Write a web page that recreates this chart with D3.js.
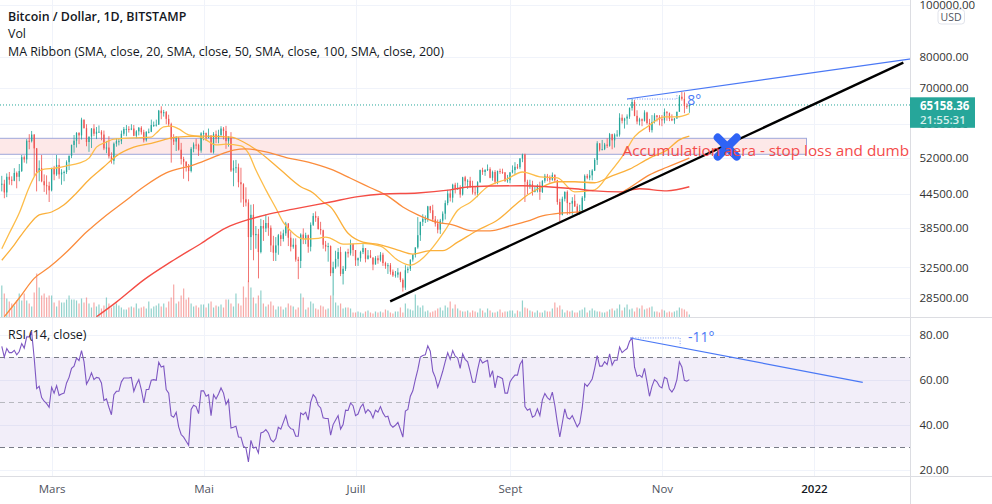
<!DOCTYPE html>
<html>
<head>
<meta charset="utf-8">
<script src="https://cdn.jsdelivr.net/npm/d3@7"></script>
<style>
html, body { margin: 0; padding: 0; background: #fff; }
svg { display: block; }
text { font-family: "Open Sans", sans-serif; }
.axis path, .axis line { display: none; }
.axis text { font-size: 11.5px; fill: #333; font-family: "Open Sans", sans-serif; }
</style>
</head>
<body>
<div id="chart"></div>
<script>
// all prices in thousands of USD, one entry per day from 9 Feb 2021
var firstOpen = 46.4;
var closes = [
  46.5,44.8,47.9,47.3,47.1,48.7,47.9,49.1,52.1,51.6,55.9,55.8,57.4,54.1,48.9,49.7,47.0,46.2,46.1,45.2,
  49.6,48.4,50.4,48.4,48.8,48.9,51.0,52.4,54.9,55.9,57.8,57.2,61.2,59.0,55.6,56.9,58.9,57.6,58.1,58.1,57.4,54.1,54.3,52.3,51.3,55.2,55.8,55.8,57.6,58.8,58.8,
  58.7,58.9,57.1,58.2,59.1,58.0,56.0,58.1,58.1,59.8,59.8,59.9,63.6,62.9,63.2,61.4,60.0,56.2,55.7,56.5,53.8,51.7,51.1,50.1,49.1,54.0,55.0,54.9,53.6,57.7,
  57.8,56.6,57.2,53.2,57.5,56.4,57.3,58.9,58.3,55.8,56.7,49.2,49.7,49.9,46.8,46.4,43.5,42.9,37.0,40.7,37.3,37.5,34.7,38.8,38.4,39.3,38.5,35.7,34.6,35.7,37.3,
  36.7,37.6,39.2,36.9,35.5,35.8,33.6,33.4,37.4,36.7,37.3,35.5,39.0,40.5,40.2,38.3,38.1,35.8,35.5,35.6,31.7,32.5,33.7,34.7,31.6,32.3,34.7,34.5,35.9,35.0,
  33.5,33.8,34.7,35.3,33.7,34.2,33.9,32.9,33.8,33.5,34.3,33.1,32.7,32.8,31.9,31.4,31.5,31.8,30.8,29.8,32.1,32.3,33.6,34.3,35.4,37.3,39.5,40.0,40.0,42.2,41.5,
  39.9,39.2,38.2,39.7,40.9,42.8,44.6,43.8,46.3,45.6,45.6,44.4,47.8,47.0,47.1,46.0,44.8,44.7,46.8,49.3,48.9,49.3,49.5,47.7,48.9,46.9,49.1,48.9,48.8,47.0,47.2,
  48.8,49.3,50.0,49.9,51.8,52.7,46.9,46.1,46.4,44.9,45.2,46.1,44.9,47.1,48.1,47.8,47.3,48.3,47.2,43.0,40.7,43.6,44.9,42.8,42.7,43.2,42.2,41.0,41.5,43.8,
  48.1,47.7,48.2,49.2,51.5,55.3,53.8,53.9,55.0,54.7,57.5,56.0,57.4,57.4,61.7,60.9,61.5,62.0,64.3,66.0,62.2,60.7,61.3,60.9,63.1,60.3,58.5,60.6,62.3,61.9,61.3,
  61.0,63.2,62.9,61.4,61.0,61.5,63.3,67.5,66.9,64.9,64.8,65.16
];
var highs = [
  48.1,47.3,48.6,48.9,48.0,49.7,49.0,50.6,52.6,52.5,56.3,57.5,58.3,57.5,54.2,51.4,52.6,48.4,48.2,46.9,
  49.8,50.2,52.6,51.8,49.5,49.2,51.4,52.5,55.0,57.3,58.0,58.0,61.7,61.2,60.0,56.9,59.0,60.0,59.3,59.7,58.5,58.4,55.8,57.0,53.2,55.5,56.5,56.5,58.4,59.3,59.8,
  59.5,60.0,59.8,58.5,59.3,59.5,58.6,58.2,58.9,61.2,60.7,61.2,63.8,64.8,63.8,63.5,62.5,60.4,57.5,57.0,56.8,55.4,52.2,51.2,50.6,54.4,55.5,56.4,55.2,58.0,
  58.4,57.9,58.9,57.2,58.0,58.4,58.6,59.5,59.3,59.6,57.0,58.0,51.4,51.5,50.7,49.8,46.6,45.8,43.5,42.5,42.6,38.8,38.3,40.0,39.8,40.8,40.4,38.9,37.2,37.0,37.5,
  37.9,38.2,39.5,39.3,37.9,36.8,36.8,34.0,37.6,38.4,37.7,37.4,39.4,41.0,41.3,40.5,39.5,38.2,36.4,36.1,35.7,33.3,34.9,35.3,35.5,32.7,34.8,35.2,36.6,36.0,
  35.0,33.9,34.9,35.9,35.3,35.0,35.0,33.9,34.1,34.2,34.7,34.6,33.3,33.1,33.1,32.2,32.0,32.4,31.9,31.0,32.8,32.6,33.6,34.4,35.4,40.3,39.5,40.8,40.6,42.3,42.3,
  42.5,40.5,39.9,40.0,41.3,43.3,45.3,45.3,46.5,46.7,46.7,46.2,47.9,48.1,47.4,47.9,47.1,46.0,47.0,49.4,49.8,49.5,50.5,49.9,49.2,49.3,49.2,49.6,49.6,48.9,48.3,
  48.9,50.3,51.0,50.6,51.9,52.9,52.9,47.3,47.3,47.1,45.9,46.4,46.9,47.2,48.5,48.5,48.2,48.8,48.4,47.3,43.6,44.0,45.0,45.2,42.9,43.9,44.4,42.7,42.5,44.1,
  48.4,48.5,49.3,49.5,51.9,55.8,55.3,56.1,55.4,56.5,57.8,57.6,57.7,58.5,62.9,62.6,61.7,62.6,64.5,66.9,66.6,63.7,61.7,61.5,63.7,63.3,61.4,62.4,62.9,62.4,62.4,
  62.4,64.2,63.5,63.1,62.6,61.6,63.3,68.0,68.9,68.8,65.6,65.4
];
var lows = [
  45.0,43.7,43.9,46.3,46.2,47.0,45.6,47.0,48.9,50.9,50.7,53.9,55.5,48.0,45.0,47.0,46.8,44.9,44.4,43.0,
  45.0,47.2,48.1,47.5,46.3,47.0,48.5,49.3,51.9,53.1,54.3,55.1,56.2,58.9,54.6,53.3,54.2,57.0,56.3,57.9,56.0,53.7,53.0,51.8,50.7,50.5,54.5,54.8,55.1,57.1,57.0,
  57.9,58.5,57.0,56.5,57.2,57.4,55.5,55.7,57.7,58.0,59.3,59.4,59.8,61.3,62.0,60.0,59.5,50.9,54.9,53.5,53.6,50.5,47.5,49.0,47.0,48.8,53.2,53.9,52.4,53.1,
  56.0,55.9,56.5,53.1,52.9,55.3,55.3,56.9,56.2,54.0,54.5,48.9,46.0,48.7,45.8,42.9,42.1,42.2,30.5,35.0,33.5,35.2,31.0,34.5,36.4,37.8,37.2,34.7,33.4,33.4,34.3,
  35.6,36.3,37.2,35.6,34.8,35.2,33.3,30.9,32.4,35.9,35.9,34.6,34.8,38.8,39.5,38.2,37.4,35.2,34.8,33.3,31.3,28.8,32.3,32.6,31.3,30.2,32.0,33.9,34.2,34.1,
  32.7,32.7,33.3,34.4,33.2,33.6,33.8,32.1,32.9,33.0,33.3,32.7,32.3,31.6,31.5,31.2,31.1,31.1,30.5,29.3,29.5,31.7,32.0,33.3,33.9,35.2,36.4,38.8,39.3,39.5,41.0,
  39.5,38.7,37.6,37.5,39.3,39.9,42.4,43.1,42.9,44.6,45.3,43.8,44.2,46.1,45.5,45.7,44.4,44.2,43.9,46.7,48.3,48.1,49.1,47.6,47.1,46.4,46.4,48.5,48.5,46.9,46.7,
  46.6,48.6,48.4,49.5,49.5,51.0,43.0,44.5,45.5,44.2,44.8,44.8,43.4,44.7,46.7,47.0,46.7,47.1,46.9,42.5,39.6,40.6,43.1,40.7,40.8,40.7,42.1,40.9,40.7,41.4,
  43.2,47.4,47.2,47.2,49.1,50.4,53.4,53.7,53.7,54.2,54.5,53.9,54.3,56.8,56.9,60.2,58.9,59.9,61.4,63.6,62.1,60.0,59.7,59.5,60.7,59.9,58.0,57.9,60.2,60.7,59.7,
  59.5,60.2,60.9,60.8,60.8,60.1,61.4,63.3,66.4,62.9,64.1,63.0
];
var volumes = [
  32,24,19,16,14,12,17,24,17,24,17,14,11,25,44,30,22,24,20,22,
  22,15,11,17,15,15,18,22,18,18,17,14,19,15,20,14,10,15,11,13,
  9,12,20,14,10,12,14,12,10,8,8,10,11,10,14,9,10,11,9,16,
  9,11,12,14,11,14,10,16,20,33,14,16,22,29,18,20,14,11,12,10,
  13,13,10,14,16,10,12,11,13,10,18,18,14,11,24,14,12,31,20,37,
  30,20,14,22,27,14,11,13,16,12,8,11,11,8,10,14,12,11,8,10,
  24,20,8,10,16,14,9,8,12,11,8,9,22,22,15,12,14,9,10,10,
  9,5,5,6,5,4,6,7,5,4,6,5,6,5,8,7,5,4,6,6,
  10,5,14,9,8,7,23,12,10,12,6,7,5,6,7,9,10,7,12,10,
  16,9,13,9,7,6,6,7,5,7,6,5,9,7,5,9,7,5,5,6,
  8,5,6,6,7,7,4,7,6,17,10,9,7,6,5,7,5,5,7,6,
  6,9,15,10,12,8,5,7,6,7,5,5,7,8,10,5,7,9,7,6,
  6,5,5,6,8,9,7,9,13,7,10,13,8,9,6,10,9,12,8,9,
  10,11,6,6,5,8,7,5,6,5,6,7,10,9,8,6,3
];
var rsiValues = [
  74.8,70,73.8,72,72,73,71,72.5,76,74,79,79,81,69.6,56,57,52,50.4,49.3,47.7,
  56.6,54,57.3,53,53.6,54,58.5,61,65,66,69.6,68.4,72.9,68,58,60,63,60,61,60.7,
  58.5,50.7,51.4,47.7,44.4,53.3,54.8,54.8,59,60.7,60.7,60.7,61,54.8,57.8,60,55.6,49.6,55.6,55.6,
  59.7,60,59.7,67.7,65.6,66,55.6,54,44,43.3,45.5,39,35.6,34.4,32.6,30.8,46.7,48.6,48,44.9,
  55,55,52.6,53.3,44,53.3,51.4,53.6,56.3,54,49,51,38.5,38.8,39.3,34.5,34.4,30.4,29.6,23.4,
  33,29.6,30,27.4,36.3,36.7,37.8,36.3,33.3,32.3,33.8,38.8,38,41,44,39.6,38.2,37.8,34.8,34.8,
  45.2,44.4,45.5,42,50,53.3,52,48.6,47.4,43,42.7,42.7,35.3,40,42,44,38,40,46.4,46.3,
  49.6,48.4,44,44.7,47.7,49.2,45.2,46.7,45.6,43,46.4,45.5,48,45.2,43.4,43.7,40,38.8,39.7,41,
  37.8,34.4,46,46.7,52.6,55,60,64.4,70,70.7,71,75,72.6,63.7,61,56.6,60,63.7,68,71.9,
  69,72.9,70.4,69.6,65,71.4,69,67.9,63.7,58.8,58.8,64.4,69.3,67.4,68,68.6,61,64,56.3,61.5,
  61,60.4,54,54,59,60.7,62,62,66.7,68.6,48,46.4,47,43.3,44,47,44,51,53.8,52,
  51,54.4,48.6,41,34.5,40.7,47,43,42.5,44,41.5,39,40.7,47.4,58.2,57,58.5,60.3,65,70.7,
  66,66,68,66.7,71.4,66.4,68.6,68.6,74.5,72,73,73.8,77,78.5,65.5,61.5,62,61,65,59,
  52.6,57,60,59,57,56.3,61,60.4,55.8,54.5,56.3,60,67.9,65.6,59.7,59.3,60
];

// MA ribbon at these candle indexes
var ma20Idx = [0,3,7,11,14,17,21,26,31,35,38,42,45,53,60,62,65,68,71,75,80,82,86,90,96,99,102,106,110,113,117,121,127,130,132,137,145,152,159,164,168,173,178,183,188,195,203,209,216,223,230,238,244,250,254,259,266,271,276];
var ma20Val = [35.2,37.6,41,45.8,48.7,49.5,49.7,50.2,50.8,51.9,54.4,55.6,56.3,56.6,56.8,57.8,59.3,59.5,58.8,57.3,56.8,56.1,54.9,55.1,54.7,53,49.3,45.3,41.9,39.4,37.6,36.7,36.8,37,36.8,35.9,36,35.6,33.5,32.8,33.5,35.4,38.1,41.5,42.9,45.9,47.5,48.9,47.9,47.7,44.9,45.3,48.7,53,56.9,59.3,61.9,61.9,62.8];
var ma50Idx = [0,5,10,15,20,25,30,35,41,46,53,60,65,70,80,92,97,104,112,120,125,129,132,139,145,152,159,165,172,177,183,191,199,207,211,217,223,230,238,244,252,260,267,272,276];
var ma50Val = [33.5,35.8,38.5,40.7,41.2,42.5,44.7,47.3,50,52.4,54.4,55.3,56.1,56.8,57,56.8,55.6,53,49.3,45.9,44.7,43,42.1,37.6,36.2,35.8,35,34.4,34.9,34.9,36.2,38.1,39.8,42.8,44.3,45.9,46.9,46.9,46.7,47.9,49.5,51.9,53.7,56.1,57];
var ma100Idx = [1,7,13,19,26,34,41,49,57,66,77,85,93,98,106,115,123,132,140,148,155,161,167,175,181,189,196,204,211,217,224,232,239,245,252,260,267,276];
var ma100Val = [26.3,28.5,31,32.5,34.7,37.8,40.3,43,45.9,48.7,50.4,52.1,53.7,54,53.3,51.9,51,49.5,47.6,45.7,44.1,42.1,40.7,39.4,39,38,38,38.8,39.6,40.5,41,41.2,42.5,43.7,45.7,48.3,49.9,51.9];
var ma200Idx = [38,46,57,68,80,90,100,106,117,132,143,153,167,180,188,209,219,230,238,248,256,267,276];
var ma200Val = [26.3,28,30.8,33.3,36,38.5,40,40.7,41.7,43,44,44.5,44.7,45.3,45.9,46.1,45.9,45.5,45.1,44.9,45.5,45.1,45.9];

var priceTicks = [100, 80, 70, 60, 52, 44.5, 38.5, 32.5, 28.5];
var rsiTicks = [80, 60, 40, 20];
var timeTickIdx = [20, 81, 142, 204, 265, 326];
var timeTickLabels = ["Mars", "Mai", "Juill", "Sept", "Nov", "2022"];
var lastPrice = 65.15836;
var zoneTop = 56.49, zoneBottom = 52.75;

var width = 992, height = 504;
var plotRight = 910.5, mainBottom = 317.5, rsiBottom = 476.5;

var x = d3.scaleLinear().domain([0, 326]).range([1.8, 813.9]);
var y = d3.scaleLog().domain([100, 28.5]).range([5, 298]);
var yVol = d3.scaleLinear().domain([0, 50]).range([mainBottom, mainBottom - 50]);
var yRsi = d3.scaleLinear().domain([80, 20]).range([334.6, 469.6]);

var svg = d3.select("#chart").append("svg").attr("width", width).attr("height", height);

svg.append("clipPath").attr("id", "mainClip").append("rect")
    .attr("x", 0).attr("y", 0).attr("width", plotRight).attr("height", mainBottom);

// grid
var grid = svg.append("g").attr("stroke", "#f0f3fa").attr("stroke-width", 1);
priceTicks.forEach(function (t) {
    grid.append("line").attr("x1", 0).attr("x2", plotRight).attr("y1", Math.round(y(t)) + 0.5).attr("y2", Math.round(y(t)) + 0.5);
});
rsiTicks.forEach(function (t) {
    grid.append("line").attr("x1", 0).attr("x2", plotRight).attr("y1", Math.round(yRsi(t)) + 0.5).attr("y2", Math.round(yRsi(t)) + 0.5);
});
timeTickIdx.forEach(function (t) {
    grid.append("line").attr("x1", Math.round(x(t)) + 0.5).attr("x2", Math.round(x(t)) + 0.5).attr("y1", 0).attr("y2", rsiBottom);
});

var main = svg.append("g").attr("clip-path", "url(#mainClip)");

// accumulation zone
main.append("rect")
    .attr("x", -2).attr("y", y(zoneTop)).attr("width", 808.5).attr("height", y(zoneBottom) - y(zoneTop))
    .attr("fill", "#fde8e8").attr("stroke", "#9fa8da").attr("stroke-width", 1);

// volume
function isUp(i) {
    var o = i == 0 ? firstOpen : closes[i - 1];
    return closes[i] >= o;
}
main.append("g").selectAll("rect").data(volumes).enter().append("rect")
    .attr("x", function (d, i) { return x(i) - 0.6; })
    .attr("y", function (d) { return yVol(d); })
    .attr("width", 1.2)
    .attr("height", function (d) { return mainBottom - yVol(d); })
    .attr("fill", function (d, i) { return isUp(i) ? "#26a69a" : "#ef5350"; })
    .attr("opacity", 0.5);

// last price line
main.append("line")
    .attr("x1", 0).attr("x2", plotRight).attr("y1", y(lastPrice)).attr("y2", y(lastPrice))
    .attr("stroke", "#26a69a").attr("stroke-width", 1).attr("stroke-dasharray", "1 2");

// candles
var candles = main.append("g").selectAll("g").data(closes).enter().append("g")
    .attr("fill", function (d, i) { return isUp(i) ? "#26a69a" : "#ef5350"; });
candles.append("rect")
    .attr("x", function (d, i) { return x(i) - 0.4; })
    .attr("y", function (d, i) { return y(highs[i]); })
    .attr("width", 0.8)
    .attr("height", function (d, i) { return y(lows[i]) - y(highs[i]); });
candles.append("rect")
    .attr("x", function (d, i) { return x(i) - 0.65; })
    .attr("y", function (d, i) { return y(Math.max(d, i == 0 ? firstOpen : closes[i - 1])); })
    .attr("width", 1.3)
    .attr("height", function (d, i) {
        var o = i == 0 ? firstOpen : closes[i - 1];
        return Math.max(1, Math.abs(y(d) - y(o)));
    });

// MA ribbon
function drawMa(idx, val, color, w) {
    var line = d3.line()
        .x(function (d) { return x(d); })
        .y(function (d, i) { return y(val[i]); })
        .curve(d3.curveMonotoneX);
    main.append("path").datum(idx).attr("d", line)
        .attr("fill", "none").attr("stroke", color).attr("stroke-width", w);
}
drawMa(ma20Idx, ma20Val, "#fdbd4a", 1.3);
drawMa(ma50Idx, ma50Val, "#fbb03b", 1.3);
drawMa(ma100Idx, ma100Val, "#fb8c3c", 1.3);
drawMa(ma200Idx, ma200Val, "#f44d45", 1.4);

// drawings, main pane
var blackLine = { i: [155.9, 361.9], p: [28.1, 78.1] };
main.append("line")
    .attr("x1", x(blackLine.i[0])).attr("y1", y(blackLine.p[0]))
    .attr("x2", x(blackLine.i[1])).attr("y2", y(blackLine.p[1]))
    .attr("stroke", "#000").attr("stroke-width", 2.4);

var trend = { i: [251, 365], p: [66.85, 79.4] };
main.append("line")
    .attr("x1", x(trend.i[0])).attr("y1", y(trend.p[0]))
    .attr("x2", x(trend.i[1])).attr("y2", y(trend.p[1]))
    .attr("stroke", "#4a78f5").attr("stroke-width", 1.2);
main.append("path")
    .attr("d", "M" + x(trend.i[0]) + "," + y(trend.p[0]) + "H" + x(271) + "V" + y(68.4))
    .attr("fill", "none").attr("stroke", "#7d9bf7").attr("stroke-width", 1).attr("stroke-dasharray", "1 1.5");
svg.append("text").attr("x", x(275.2)).attr("y", y(66.6) + 5).attr("font-size", 14).attr("fill", "#4a78f5").text("8°");

// big X mark on the trend line
var crossX = x(291.2), crossY = y(54.4);
svg.append("path")
    .attr("d", "M" + (crossX - 9.5) + "," + (crossY - 9.5) + "L" + (crossX + 9.5) + "," + (crossY + 9.5) +
        "M" + (crossX + 9.5) + "," + (crossY - 9.5) + "L" + (crossX - 9.5) + "," + (crossY + 9.5))
    .attr("stroke", "#2f63f5").attr("stroke-width", 8).attr("stroke-linecap", "round").attr("fill", "none");

svg.append("text").attr("x", x(249.2)).attr("y", y(54.2) + 8).attr("font-size", 15.3).attr("fill", "#f44b4b")
    .text("Accumulation aera - stop loss and dumb");

// RSI pane
svg.append("rect")
    .attr("x", 0).attr("width", plotRight).attr("y", yRsi(70)).attr("height", yRsi(30) - yRsi(70))
    .attr("fill", "#7e57c2").attr("opacity", 0.1);
[[70, "#787b86", "5 4"], [50, "#b8b9c0", "5 4"], [30, "#787b86", "5 4"]].forEach(function (l) {
    svg.append("line").attr("x1", 0).attr("x2", plotRight)
        .attr("y1", Math.round(yRsi(l[0])) + 0.5).attr("y2", Math.round(yRsi(l[0])) + 0.5)
        .attr("stroke", l[1]).attr("stroke-dasharray", l[2]);
});
var rsiLine = d3.line()
    .x(function (d, i) { return x(i); })
    .y(function (d) { return yRsi(d); });
svg.append("path").datum(rsiValues).attr("d", rsiLine)
    .attr("fill", "none").attr("stroke", "#7e57c2").attr("stroke-width", 1.1);

var rsiTrend = { i: [252.3, 345.6], v: [78.5, 58.8] };
svg.append("line")
    .attr("x1", x(rsiTrend.i[0])).attr("y1", yRsi(rsiTrend.v[0]))
    .attr("x2", x(rsiTrend.i[1])).attr("y2", yRsi(rsiTrend.v[1]))
    .attr("stroke", "#4a78f5").attr("stroke-width", 1.2);
svg.append("path")
    .attr("d", "M" + x(rsiTrend.i[0]) + "," + yRsi(rsiTrend.v[0]) + "H" + x(272.3) + "V" + yRsi(75))
    .attr("fill", "none").attr("stroke", "#7d9bf7").attr("stroke-width", 1).attr("stroke-dasharray", "1 1.5");
svg.append("text").attr("x", x(275.5)).attr("y", yRsi(78.5) + 4.5).attr("font-size", 14).attr("fill", "#4a78f5").text("-11°");

// borders
var borders = svg.append("g").attr("stroke", "#dcdde2").attr("stroke-width", 1);
borders.append("line").attr("x1", plotRight).attr("x2", plotRight).attr("y1", 0).attr("y2", height);
borders.append("line").attr("x1", 0).attr("x2", width).attr("y1", mainBottom).attr("y2", mainBottom);
borders.append("line").attr("x1", 0).attr("x2", width).attr("y1", rsiBottom).attr("y2", rsiBottom);

// axes
svg.append("g").attr("class", "axis").attr("transform", "translate(" + (plotRight + 9) + ",0)")
    .call(d3.axisRight(y).tickValues(priceTicks).tickSize(0).tickPadding(0)
        .tickFormat(function (d) { return (d * 1000).toFixed(2); }));
svg.append("g").attr("class", "axis").attr("transform", "translate(" + (plotRight + 9) + ",0)")
    .call(d3.axisRight(yRsi).tickValues(rsiTicks).tickSize(0).tickPadding(0)
        .tickFormat(function (d) { return d.toFixed(2); }));
var timeAxis = svg.append("g").attr("class", "axis").attr("transform", "translate(0," + rsiBottom + ")")
    .call(d3.axisBottom(x).tickValues(timeTickIdx).tickSize(0).tickPadding(8)
        .tickFormat(function (d, i) { return timeTickLabels[i]; }));
timeAxis.selectAll("text")
    .style("fill", function (d, i) { return i == 5 ? "#131722" : "#50535e"; })
    .style("font-weight", function (d, i) { return i == 5 ? "600" : "400"; });

// USD badge and last price label
svg.append("rect").attr("x", 938).attr("y", 9.5).attr("width", 26.5).attr("height", 14.5).attr("rx", 3)
    .attr("fill", "#fff").attr("stroke", "#e0e3eb");
svg.append("text").attr("x", 951).attr("y", 21).attr("text-anchor", "middle").attr("font-size", 10.5).attr("fill", "#50535e").text("USD");

svg.append("rect").attr("x", plotRight - 0.5).attr("y", 97.3).attr("width", 65).attr("height", 30.5).attr("fill", "#26a69a");
svg.append("text").attr("x", 920).attr("y", 110).attr("font-size", 11.5).attr("font-weight", 700).attr("fill", "#fff").text("65158.36");
svg.append("text").attr("x", 920).attr("y", 124).attr("font-size", 11.5).attr("font-weight", 600).attr("fill", "#d4eeeb").text("21:55:31");

// legends
svg.append("text").attr("x", 8).attr("y", 21).attr("font-size", 12.4).attr("font-weight", 600).attr("fill", "#131722").text("Bitcoin / Dollar, 1D, BITSTAMP");
svg.append("text").attr("x", 8).attr("y", 38).attr("font-size", 12.4).attr("fill", "#131722").text("Vol");
svg.append("text").attr("x", 8).attr("y", 55.5).attr("font-size", 12.4).attr("fill", "#131722").text("MA Ribbon (SMA, close, 20, SMA, close, 50, SMA, close, 100, SMA, close, 200)");
svg.append("text").attr("x", 8).attr("y", 339).attr("font-size", 12.4).attr("fill", "#131722").text("RSI (14, close)");
</script>
</body>
</html>
